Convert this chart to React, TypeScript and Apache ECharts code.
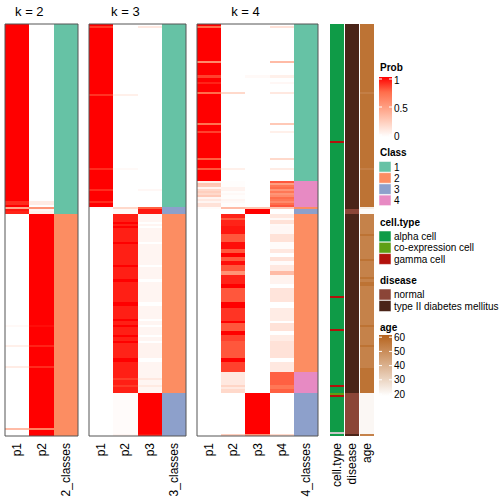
import React, { useEffect, useRef } from "react";
import * as echarts from "echarts";

type Runs = [number, number][];

const N_ROWS = 200;

const PANEL_TITLES = ["k = 2", "k = 3", "k = 4"];
const K2_COLUMNS = ["p1", "p2", "2_classes"];
const K3_COLUMNS = ["p1", "p2", "p3", "3_classes"];
const K4_COLUMNS = ["p1", "p2", "p3", "p4", "4_classes"];
const ANNOTATION_NAMES = ["cell.type", "disease", "age"];

// run-length encoded rows: [number of rows, value]
const K2_CLASS: Runs = [[92, 1], [108, 2]];
const K2_P1: Runs = [[86, 1], [2, 0.9], [1, 1], [1, 0.45], [1, 0.95], [1, 0.92], [54, 0], [1, 0.03], [9, 0], [1, 0.08], [9, 0], [1, 0.1], [29, 0], [1, 0.35], [3, 0]];
const K2_P2: Runs = [[86, 0], [2, 0.1], [1, 0], [1, 0.55], [1, 0.05], [1, 0.08], [54, 1], [1, 0.97], [9, 1], [1, 0.92], [9, 1], [1, 0.9], [29, 1], [1, 0.65], [3, 1]];

const K3_CLASS: Runs = [[89, 1], [3, 3], [87, 2], [21, 3]];
const K3_P1: Runs = [[1, 1], [1, 0.87], [32, 1], [1, 0.88], [35, 1], [1, 0.9], [9, 1], [1, 0.9], [5, 1], [1, 0.9], [2, 1], [1, 0.02], [110, 0]];
const K3_P2: Runs = [[34, 0], [1, 0.08], [35, 0], [1, 0.03], [18, 0], [1, 0.2], [2, 0.03],
  [4, 0.93], [1, 1], [1, 0.93], [1, 1], [7, 0.93], [1, 1], [10, 0.93], [1, 1], [6, 0.93], [1, 1], [10, 0.93], [2, 1], [6, 0.93], [1, 1], [2, 0.93], [1, 1], [4, 0.93], [1, 1], [2, 0.93], [1, 1], [7, 0.92], [2, 1], [8, 0.93], [1, 0.86], [2, 0.93], [1, 0.87], [3, 0.93],
  [20, 0.02], [1, 0.05]];
const K3_P3: Runs = [[1, 0], [1, 0.12], [78, 0], [1, 0.04], [8, 0], [1, 0.78], [2, 0.95],
  [4, 0.05], [1, 0], [1, 0.05], [1, 0], [7, 0.05], [1, 0], [10, 0.05], [1, 0], [6, 0.05], [1, 0], [10, 0.05], [2, 0], [6, 0.05], [1, 0], [2, 0.05], [1, 0], [4, 0.05], [1, 0], [2, 0.05], [1, 0], [7, 0.06], [2, 0], [8, 0.05], [1, 0.12], [2, 0.05], [1, 0.11], [3, 0.05],
  [20, 1], [1, 0.95]];

const K4_CLASS: Runs = [[76, 1], [13, 4], [1, 2], [2, 3], [77, 2], [10, 4], [21, 3]];
const K4_P1: Runs = [[1, 1], [1, 0.75], [16, 1], [1, 0.6], [6, 1], [1, 0.85], [2, 1], [1, 0.92], [4, 1], [1, 0.75], [14, 1], [1, 0.72], [3, 1], [1, 0.85], [12, 1], [1, 0.78], [4, 1], [1, 0.8], [5, 1],
  [1, 0.08], [1, 0.3], [1, 0.28], [1, 0.05], [1, 0.2], [1, 0.25], [1, 0.2], [1, 0.28], [1, 0.05], [1, 0.12], [1, 0.05], [1, 0.15], [1, 0.15],
  [1, 0.02], [110, 0]];
const K4_P2: Runs = [[33, 0], [1, 0.2], [36, 0], [1, 0.08], [5, 0],
  [3, 0.01], [2, 0.06], [1, 0.01], [1, 0.03], [2, 0.01], [1, 0.05], [1, 0.03], [2, 0.01],
  [1, 0.35], [2, 0],
  [2, 0.92], [1, 0.8], [3, 0.92], [4, 0.95], [4, 0.8], [3, 0.97], [2, 0.8], [2, 1], [2, 0.8], [2, 0.97], [3, 0.8], [2, 0.55], [4, 0.92], [2, 1], [7, 0.8], [3, 1], [6, 0.88], [1, 1], [4, 0.8], [2, 1], [3, 0.85], [8, 0.8], [2, 1], [5, 0.85],
  [6, 0.12], [1, 0.22], [1, 0.12], [2, 0.2],
  [20, 0], [1, 0.25]];
const K4_P3: Runs = [[25, 0], [1, 0.03], [63, 0], [1, 0.3], [2, 1], [77, 0], [10, 0], [20, 1], [1, 0.55]];
const K4_P4: Runs = [[1, 0], [1, 0.15], [16, 0], [1, 0.35], [6, 0], [1, 0.08], [2, 0], [1, 0.04], [4, 0], [1, 0.12], [14, 0], [1, 0.28], [3, 0], [1, 0.08], [12, 0], [1, 0.2], [4, 0], [1, 0.1], [5, 0],
  [1, 0.8], [1, 0.5], [1, 0.7], [1, 0.75], [1, 0.55], [1, 0.7], [1, 0.55], [1, 0.6], [1, 0.75], [1, 0.7], [1, 0.6], [1, 0.75], [1, 0.8],
  [1, 0.3], [2, 0],
  [2, 0.12], [1, 0.03], [2, 0.15], [1, 0.03], [4, 0.04], [4, 0.15], [3, 0.02], [2, 0.12], [2, 0], [2, 0.15], [2, 0.02], [3, 0.12], [2, 0.35], [4, 0.06], [2, 0], [7, 0.14], [3, 0], [6, 0.1], [1, 0], [4, 0.15], [2, 0], [3, 0.1], [8, 0.15], [2, 0], [5, 0.12],
  [6, 0.78], [2, 0.7], [2, 0.78],
  [20, 0], [1, 0.2]];

// 0 alpha cell, 1 co-expression cell, 2 gamma cell, 3 unlabelled (grey)
const CELL_TYPE_RUNS: Runs = [[57, 0], [1, 2], [74, 0], [1, 2], [15, 0], [1, 2], [26, 0], [1, 2], [3, 0], [1, 1], [1, 2], [17, 0], [1, 3], [1, 0]];
// 0 normal, 1 type II diabetes mellitus
const DISEASE_RUNS: Runs = [[90, 1], [2, 0], [87, 1], [20, 0], [1, 1]];
const AGE_RUNS: Runs = [[33, 56], [1, 53], [36, 56], [1, 53], [18, 56], [1, 25], [2, 21],
  [10, 52], [1, 56], [11, 52], [1, 56], [8, 52], [1, 56], [1, 52], [2, 56], [19, 52], [1, 56], [9, 52], [1, 56], [10, 52], [12, 56],
  [20, 22], [1, 52]];

const CLASS_NAMES = ["1", "2", "3", "4"];
const CLASS_COLORS = ["#66c2a5", "#fc8d62", "#8da0cb", "#e78ac3"];
const CELL_TYPES = ["alpha cell", "co-expression cell", "gamma cell"];
const CELL_COLORS = ["#0f9b47", "#5e9f15", "#b3120c", "#c8c8c8"];
const DISEASES = ["normal", "type II diabetes mellitus"];
const DISEASE_COLORS = ["#8b4537", "#4a2418"];
const PROB_TICKS = [1, 0.5, 0];
const PROB_COLORS = ["#ffffff", "#ffcfbe", "#ff9e81", "#ff6d4b", "#ff0000"];
const AGE_TICKS = [60, 50, 40, 30, 20];
const AGE_RANGE = [20, 60];
const AGE_COLORS = ["#ffffff", "#b6631d"];

const FONT = "'Liberation Sans', Arial, Helvetica, sans-serif";
const TOP = 24;
const HEIGHT = 412;

function expand(runs: Runs): number[] {
  const out: number[] = [];
  for (const [n, v] of runs) for (let i = 0; i < n; i++) out.push(v);
  return out.slice(0, N_ROWS);
}

function txt(text: string, x: number, y: number, size: number, opts: any = {}) {
  return {
    type: "text",
    z: 100,
    silent: true,
    style: {
      text,
      x,
      y,
      fill: "#000",
      fontSize: size,
      fontFamily: FONT,
      fontWeight: opts.bold ? "bold" : "normal",
      textAlign: opts.align || "left",
      align: opts.align || "left",
      textVerticalAlign: "middle",
      verticalAlign: "middle",
    },
  };
}

function renderCell(params: any, api: any) {
  const c = api.coord([api.value(0), api.value(1)]);
  const s = api.size([1, 1]);
  const x0 = Math.round(c[0] - s[0] / 2);
  const x1 = Math.round(c[0] + s[0] / 2);
  const y0 = Math.round(c[1] - s[1] / 2);
  const y1 = Math.round(c[1] + s[1] / 2);
  return {
    type: "rect",
    shape: { x: x0, y: y0, width: x1 - x0, height: y1 - y0 },
    style: { fill: api.visual("color"), stroke: null },
  };
}

function buildOption() {
  const rows = Array.from({ length: N_ROWS }, (_, i) => String(i));
  const panels = [
    { left: 5, width: 73, cols: K2_COLUMNS, probs: [K2_P1, K2_P2], classes: K2_CLASS },
    { left: 89, width: 97, cols: K3_COLUMNS, probs: [K3_P1, K3_P2, K3_P3], classes: K3_CLASS },
    { left: 197, width: 121, cols: K4_COLUMNS, probs: [K4_P1, K4_P2, K4_P3, K4_P4], classes: K4_CLASS },
  ];
  const annots = [
    { left: 330, width: 14, runs: CELL_TYPE_RUNS },
    { left: 345, width: 14, runs: DISEASE_RUNS },
    { left: 360, width: 14, runs: AGE_RUNS },
  ];
  const allGrids = [...panels.map((p) => ({ left: p.left, width: p.width })), ...annots.map((a) => ({ left: a.left, width: a.width }))];
  const grid = allGrids.map((g) => ({ left: g.left, top: TOP, width: g.width, height: HEIGHT, containLabel: false }));
  const xCats = [...panels.map((p) => p.cols), ...ANNOTATION_NAMES.map((n) => [n])];
  const xAxis = xCats.map((cats, i) => ({
    type: "category",
    gridIndex: i,
    data: cats,
    position: "bottom",
    axisLine: { show: false },
    axisTick: { show: false },
    splitLine: { show: false },
    axisLabel: { rotate: 90, fontSize: 12, color: "#000", margin: 7, fontFamily: FONT, interval: 0 },
  }));
  const yAxis = xCats.map((_, i) => ({ type: "category", gridIndex: i, data: rows, inverse: true, show: false }));

  const series: any[] = [];
  const base = { type: "custom", renderItem: renderCell, silent: true, encode: { x: 0, y: 1 }, clip: false };
  panels.forEach((p, i) => {
    const probData: number[][] = [];
    p.probs.forEach((runs, c) => {
      expand(runs).forEach((v, r) => probData.push([c, r, v]));
    });
    series.push({ ...base, xAxisIndex: i, yAxisIndex: i, data: probData });
    const classData = expand(p.classes).map((v, r) => [p.probs.length, r, v]);
    series.push({ ...base, xAxisIndex: i, yAxisIndex: i, data: classData });
  });
  annots.forEach((a, j) => {
    const gi = panels.length + j;
    series.push({ ...base, xAxisIndex: gi, yAxisIndex: gi, data: expand(a.runs).map((v, r) => [0, r, v]) });
  });

  const visualMap = [
    { type: "continuous", show: false, seriesIndex: [0, 2, 4], dimension: 2, min: 0, max: 1, inRange: { color: PROB_COLORS } },
    { type: "piecewise", show: false, seriesIndex: [1, 3, 5], dimension: 2, pieces: CLASS_NAMES.map((_, i) => ({ value: i + 1, color: CLASS_COLORS[i] })) },
    { type: "piecewise", show: false, seriesIndex: [6], dimension: 2, pieces: CELL_COLORS.map((c, i) => ({ value: i, color: c })) },
    { type: "piecewise", show: false, seriesIndex: [7], dimension: 2, pieces: DISEASE_COLORS.map((c, i) => ({ value: i, color: c })) },
    { type: "continuous", show: false, seriesIndex: [8], dimension: 2, min: AGE_RANGE[0], max: AGE_RANGE[1], inRange: { color: AGE_COLORS } },
  ];

  const graphics: any[] = [];
  panels.forEach((p, i) => {
    const probW = (p.width * p.probs.length) / p.cols.length;
    graphics.push(txt(PANEL_TITLES[i], p.left + probW / 2, 11, 13, { align: "center" }));
    graphics.push({
      type: "rect",
      z: 100,
      silent: true,
      shape: { x: p.left, y: TOP, width: p.width, height: HEIGHT },
      style: { fill: "none", stroke: "#555555", lineWidth: 1 },
    });
  });

  const LX = 379;
  const LW = 13;
  const TX = 394;
  graphics.push(txt("Prob", 380, 67, 10, { bold: true }));
  graphics.push({
    type: "rect",
    z: 100,
    silent: true,
    shape: { x: LX, y: 77, width: LW, height: 60 },
    style: {
      fill: {
        type: "linear", x: 0, y: 0, x2: 0, y2: 1,
        colorStops: PROB_COLORS.slice().reverse().map((c, i, arr) => ({ offset: i / (arr.length - 1), color: c })),
      },
    },
  });
  PROB_TICKS.forEach((v) => {
    const y = 135 - 56 * v;
    graphics.push(txt(String(v), TX, y + 1, 10));
    graphics.push({ type: "line", z: 101, silent: true, shape: { x1: LX, y1: y, x2: LX + 3, y2: y }, style: { stroke: "#fff", lineWidth: 1 } });
    graphics.push({ type: "line", z: 101, silent: true, shape: { x1: LX + LW - 3, y1: y, x2: LX + LW, y2: y }, style: { stroke: "#fff", lineWidth: 1 } });
  });

  graphics.push(txt("Class", 380, 152, 10, { bold: true }));
  CLASS_NAMES.forEach((n, i) => {
    graphics.push({ type: "rect", z: 100, silent: true, shape: { x: LX, y: 161.5 + i * 11.2, width: 12, height: 10.5 }, style: { fill: CLASS_COLORS[i], stroke: "#ffffff", lineWidth: 0.5 } });
    graphics.push(txt(n, TX, 167 + i * 11.2, 10));
  });

  graphics.push(txt("cell.type", 380, 222, 10, { bold: true }));
  CELL_TYPES.forEach((n, i) => {
    graphics.push({ type: "rect", z: 100, silent: true, shape: { x: LX, y: 231 + i * 11.3, width: 12, height: 10.8 }, style: { fill: CELL_COLORS[i], stroke: "#ffffff", lineWidth: 0.5 } });
    graphics.push(txt(n, TX, 236.5 + i * 11.3, 10));
  });

  graphics.push(txt("disease", 380, 280, 10, { bold: true }));
  DISEASES.forEach((n, i) => {
    graphics.push({ type: "rect", z: 100, silent: true, shape: { x: LX, y: 289 + i * 11.5, width: 12, height: 11 }, style: { fill: DISEASE_COLORS[i], stroke: "#ffffff", lineWidth: 0.5 } });
    graphics.push(txt(n, TX, 294.5 + i * 11.5, 10));
  });

  graphics.push(txt("age", 380, 327, 10, { bold: true }));
  graphics.push({
    type: "rect",
    z: 100,
    silent: true,
    shape: { x: LX, y: 335, width: LW, height: 61 },
    style: {
      fill: {
        type: "linear", x: 0, y: 0, x2: 0, y2: 1,
        colorStops: [{ offset: 0, color: AGE_COLORS[1] }, { offset: 1, color: AGE_COLORS[0] }],
      },
    },
  });
  AGE_TICKS.forEach((a) => {
    const y = 394 - (a - AGE_RANGE[0]) * 1.42;
    graphics.push(txt(String(a), TX, y, 10));
    graphics.push({ type: "line", z: 101, silent: true, shape: { x1: LX, y1: y, x2: LX + 3, y2: y }, style: { stroke: "#fff", lineWidth: 1 } });
    graphics.push({ type: "line", z: 101, silent: true, shape: { x1: LX + LW - 3, y1: y, x2: LX + LW, y2: y }, style: { stroke: "#fff", lineWidth: 1 } });
  });

  return {
    animation: false,
    backgroundColor: "#ffffff",
    textStyle: { fontFamily: FONT },
    grid,
    xAxis,
    yAxis,
    visualMap,
    series,
    graphic: { elements: graphics },
  };
}

export default function App() {
  const ref = useRef<HTMLDivElement>(null);
  useEffect(() => {
    const chart = echarts.init(ref.current!, undefined, { renderer: "svg" });
    chart.setOption(buildOption() as any);
    return () => chart.dispose();
  }, []);
  return <div ref={ref} style={{ position: "absolute", left: 0, top: 0, width: 504, height: 504 }} />;
}
